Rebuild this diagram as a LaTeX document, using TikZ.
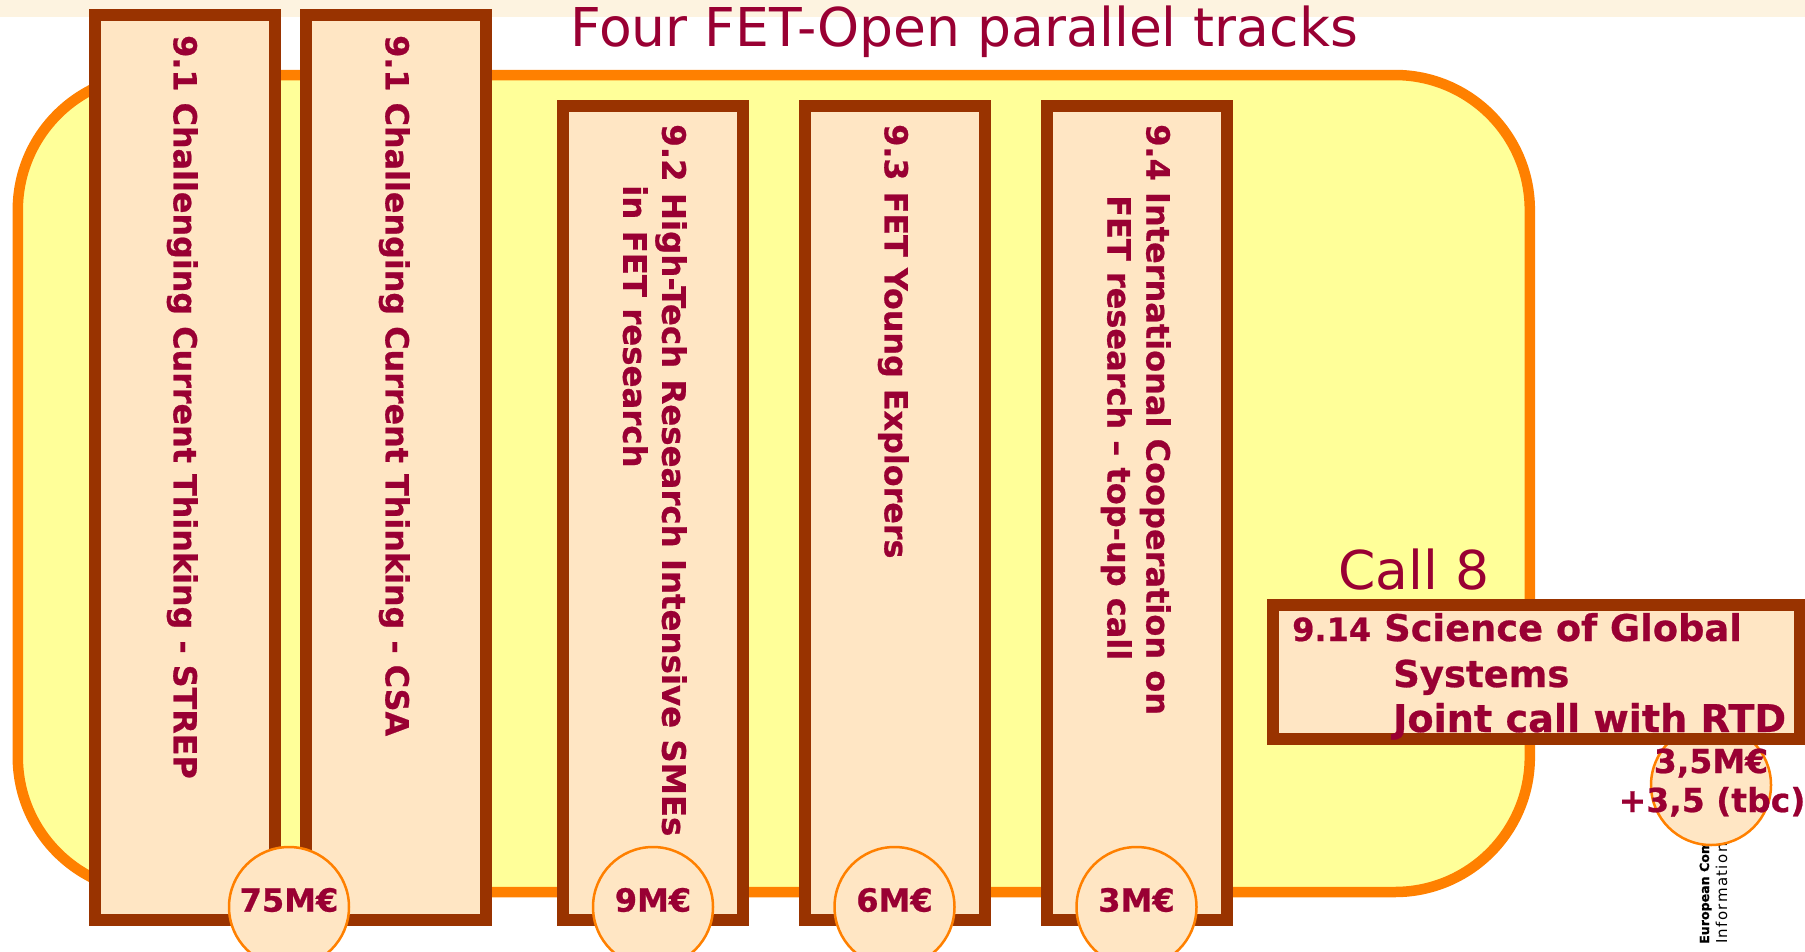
\documentclass[tikz,border=0pt]{standalone}
\usepackage{fontspec}
\setmainfont{DejaVu Sans}[BoldFeatures={FakeBold=0.7}]
\newfontfamily\spaced{DejaVu Sans}[LetterSpace=9]
\definecolor{wine}{HTML}{990033}
\definecolor{brownb}{HTML}{993300}
\definecolor{orangeb}{HTML}{FF8000}
\definecolor{peach}{HTML}{FFE6C4}
\definecolor{lemon}{HTML}{FFFF99}
\definecolor{strip}{HTML}{FDF3E0}
\newcommand{\fs}[1]{\fontsize{#1}{#1}\selectfont}
\tikzset{
 x=1pt,y=-1pt,
 trackbox/.style={draw=brownb,fill=peach,line width=12pt,rectangle,inner sep=0pt,outer sep=0pt},
 tracktext/.style={rotate=-90,anchor=north west,align=left,text=wine,inner sep=0pt,font=\fontsize{31.8}{39}\selectfont\bfseries},
 money/.style={circle,draw=orangeb,fill=peach,line width=2.5pt,minimum size=120pt,inner sep=0pt},
 moneytext/.style={text=wine,inner sep=0pt,font=\fs{32}\bfseries},
 heading/.style={text=wine,inner sep=0pt,anchor=base west,font=\fs{53.5}},
 calltext/.style={text=wine,inner sep=0pt,anchor=base west,font=\fs{37}\bfseries},
}
\begin{document}
\begin{tikzpicture}
\useasboundingbox (0,0) rectangle (1805,951);
\clip (0,0) rectangle (1805,951);
\fill[strip] (0,0) rectangle (1805,17);
\node[draw=orangeb,fill=lemon,line width=10.5pt,rounded corners=135pt,rectangle,minimum width=1512pt,minimum height=817pt,inner sep=0pt] (panel) at (773.8,483.5) {};
\node[heading] (title) at (570,46) {Four FET-Open parallel tracks};
\node[heading] (call) at (1338,589) {Call 8};

\node[trackbox,minimum width=180pt,minimum height=905pt] (b1) at (184.5,467.5) {};
\node[trackbox,minimum width=180pt,minimum height=905pt] (b2) at (395.5,467.5) {};
\node[trackbox,minimum width=180pt,minimum height=814pt] (b3) at (652.5,513) {};
\node[trackbox,minimum width=180pt,minimum height=814pt] (b4) at (895,513) {};
\node[trackbox,minimum width=180pt,minimum height=814pt] (b5) at (1136.5,513) {};

\node[tracktext] (t1) at (198,35) {9.1 Challenging Current Thinking - STREP};
\node[tracktext] (t2) at (410,35) {9.1 Challenging Current Thinking - CSA};
\node[tracktext,font=\fontsize{32.4}{39}\selectfont\bfseries] (t3) at (687,124) {9.2 High-Tech Research Intensive SMEs\\\hspace*{61pt}in FET research};
\node[tracktext] (t4) at (909,124) {9.3 FET Young Explorers};
\node[tracktext,font=\fontsize{32}{39}\selectfont\bfseries] (t5) at (1171,124) {9.4 International Cooperation on\\\hspace*{71pt}FET research – top-up call};

\node[money] (m1) at (289,907) {};
\node[money] (m2) at (653,907) {};
\node[money] (m3) at (894.5,907) {};
\node[money] (m4) at (1136.5,907) {};
\node[moneytext] (mt1) at (289,900) {75M€};
\node[moneytext] (mt2) at (653,900) {9M€};
\node[moneytext] (mt3) at (894.5,900) {6M€};
\node[moneytext] (mt4) at (1136.5,900) {3M€};

\node[rotate=90,anchor=base west,inner sep=0pt,text=black,font=\fs{12.6}\bfseries] (ec) at (1709,944) {European Com};
\node[rotate=90,anchor=base west,inner sep=0pt,text=black,font=\fs{15}\spaced] (is) at (1727,944) {Information S};
\node[money] (m5) at (1711,785) {};

\node[trackbox,minimum width=527pt,minimum height=134pt] (callbox) at (1536.5,671.5) {};
\node[calltext,font=\fs{32}\bfseries] (l0) at (1292,641) {9.14};
\node[calltext,font=\fs{36.8}\bfseries] (l1) at (1384,641) {Science of Global};
\node[calltext] (l2) at (1393,687) {Systems};
\node[calltext,font=\fs{38.2}\bfseries] (l3) at (1393,732) {Joint call with RTD};
\node[moneytext,anchor=base,font=\fs{33}\bfseries] (a1) at (1711,773) {3,5M€};
\node[moneytext,anchor=base,font=\fs{33}\bfseries] (a2) at (1712,812) {+3,5 (tbc)};
\end{tikzpicture}
\end{document}
